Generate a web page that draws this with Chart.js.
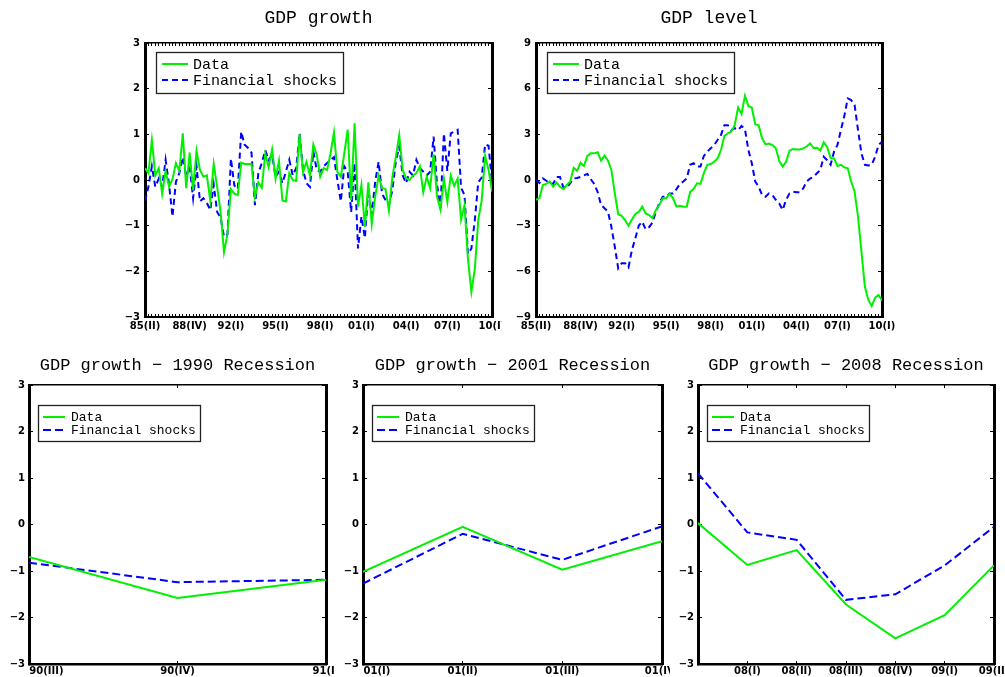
<!DOCTYPE html>
<html>
<head>
<meta charset="utf-8">
<script src="https://cdn.jsdelivr.net/npm/chart.js@4.4.1/dist/chart.umd.min.js"></script>
<style>
  html, body { margin: 0; padding: 0; background: #fff; }
  #fig { position: relative; width: 1005px; height: 677px; overflow: hidden; background: #fff; }
  #fig canvas { position: absolute; }
</style>
</head>
<body>
<div id="fig"></div>
<script>
// ---- series names ----
const seriesNames = ['Data', 'Financial shocks'];

// ---- full sample, quarterly 1985:I - 2010:II ----
const fullTickLabels = ['85(II)', '88(IV)', '92(I)', '95(I)', '98(I)', '01(I)', '04(I)', '07(I)', '10(I)'];

const growthData = [
  0.26, 0.15, 0.87, 0.10, 0.26, -0.30, 0.20, -0.15, 0.02, 0.37,
  0.20, 1.02, -0.18, 0.60, -0.22, 0.64, 0.22, 0.07, 0.10, -0.45,
  0.35, -0.15, -0.70, -1.58, -1.19, -0.20, -0.30, -0.33, 0.38, 0.35,
  0.35, 0.35, -0.37, -0.05, -0.17, 0.57, 0.28, 0.67, 0.03, 0.42,
  -0.45, -0.47, 0.15, 0.00, -0.02, 1.00, 0.17, 0.40, 0.10, 0.78,
  0.55, 0.07, 0.26, 0.22, 0.58, 1.04, 0.18, 0.07, 0.58, 1.10,
  -0.44, 1.24, -0.58, -0.11, -1.02, -0.05, -0.97, -0.36, 0.09, -0.18,
  -0.20, -0.67, 0.07, 0.50, 0.98, 0.22, 0.04, 0.00, 0.10, 0.15,
  0.30, -0.27, 0.07, -0.18, 0.56, -0.36, -0.65, 0.02, -0.48, 0.10,
  -0.13, 0.03, -0.87, -0.55, -1.72, -2.45, -1.95, -0.88, -0.45, 0.52,
  0.22, -0.25
];

const growthShocks = [
  -0.46, -0.15, 0.30, -0.15, 0.03, -0.15, 0.44, -0.10, -0.80, -0.04,
  0.15, 0.50, 0.07, 0.30, -0.40, 0.30, -0.47, -0.40, -0.50, -0.66,
  -0.10, -0.70, -0.82, -1.24, -1.19, 0.47, -0.12, -0.20, 1.06, 0.77,
  0.70, 0.60, -0.55, 0.15, 0.37, 0.65, 0.44, 0.55, 0.07, 0.18,
  -0.07, 0.18, 0.44, 0.10, 0.26, 1.02, 0.22, -0.07, -0.15, 0.62,
  0.22, 0.18, 0.30, 0.37, 0.44, 0.50, 0.00, -0.47, 0.30, 0.18,
  -0.70, 0.37, -1.50, -0.80, -1.27, -0.20, -0.76, -0.04, 0.40, -0.30,
  -0.44, -0.55, -0.22, 0.40, 0.73, 0.10, -0.07, 0.18, 0.10, 0.44,
  0.26, 0.18, 0.10, 0.18, 0.95, -0.10, -0.62, 1.02, 0.20, 1.02,
  1.06, 1.10, -0.17, -0.33, -1.62, -1.50, -0.88, -0.05, 0.05, 0.78,
  0.75, -0.05
];

const levelData = [
  -1.30, -1.20, -0.33, -0.26, -0.10, -0.44, -0.17, -0.44, -0.60, -0.33,
  -0.10, 0.80, 0.60, 1.13, 0.92, 1.58, 1.75, 1.75, 1.82, 1.27,
  1.60, 1.27, 0.66, -0.88, -2.25, -2.36, -2.63, -3.00, -2.60, -2.23,
  -2.10, -1.75, -2.20, -2.30, -2.50, -1.97, -1.64, -1.20, -1.20, -0.88,
  -1.20, -1.75, -1.70, -1.75, -1.75, -0.77, -0.60, -0.22, -0.26, 0.45,
  1.00, 1.05, 1.20, 1.42, 1.97, 2.90, 3.07, 3.17, 3.60, 4.77,
  4.34, 5.54, 4.86, 4.75, 3.66, 3.60, 2.74, 2.34, 2.40, 2.30,
  2.08, 1.25, 0.88, 1.20, 1.93, 2.04, 2.00, 2.00, 2.08, 2.20,
  2.40, 2.10, 2.12, 1.93, 2.47, 2.15, 1.45, 1.42, 0.92, 1.00,
  0.83, 0.77, -0.10, -0.77, -2.40, -4.70, -7.00, -7.88, -8.28, -7.73,
  -7.55, -7.93
];

const levelShocks = [
  0.00, -0.20, 0.10, -0.05, -0.17, -0.26, 0.20, 0.20, -0.50, -0.50,
  -0.20, 0.10, 0.13, 0.20, 0.30, 0.40, 0.05, -0.26, -0.80, -1.64,
  -1.86, -2.08, -3.07, -4.38, -5.80, -5.47, -5.47, -5.74, -4.60, -3.83,
  -3.00, -2.74, -3.24, -3.10, -2.80, -2.08, -1.53, -1.10, -1.10, -0.88,
  -0.88, -0.60, -0.26, -0.10, 0.10, 1.00, 1.10, 0.88, 0.88, 1.58,
  1.86, 2.08, 2.30, 2.63, 2.96, 3.60, 3.60, 3.28, 3.40, 3.28,
  3.55, 3.33, 1.97, 1.10, -0.10, -0.44, -0.99, -1.10, -0.88, -0.99,
  -1.30, -1.53, -1.97, -1.30, -0.88, -0.77, -0.80, -0.80, -0.55, -0.10,
  0.10, 0.20, 0.44, 0.66, 1.53, 1.30, 1.00, 1.86, 2.30, 3.28,
  4.20, 5.36, 5.25, 4.93, 3.28, 1.75, 1.00, 0.95, 1.00, 1.53,
  2.30, 2.52
];

// ---- recession windows ----
const rec1990Labels = ['90(III)', '90(IV)', '91(I)'];
const rec1990Data = [-0.70, -1.58, -1.19];
const rec1990Shocks = [-0.82, -1.24, -1.19];

const rec2001Labels = ['01(I)', '01(II)', '01(III)', '01(IV)'];
const rec2001Data = [-1.02, -0.05, -0.97, -0.36];
const rec2001Shocks = [-1.27, -0.20, -0.76, -0.04];

const rec2008Labels = ['', '08(I)', '08(II)', '08(III)', '08(IV)', '09(I)', '09(II)'];
const rec2008Data = [0.03, -0.87, -0.55, -1.72, -2.45, -1.95, -0.88];
const rec2008Shocks = [1.10, -0.17, -0.33, -1.62, -1.50, -0.88, -0.05];

// ---- styling ----
const GREEN = 'rgb(0,240,0)';
const BLUE = 'rgb(0,0,255)';
const TITLE_FAMILY = '"Liberation Mono", monospace';
const TICK_FAMILY = '"DejaVu Sans", sans-serif';
const TICK_SIZE = 10;

function fmtY(v) {
  return v < 0 ? '\u2212' + Math.abs(v) : String(v);
}

// text measuring for label alignment
const measureCtx = document.createElement('canvas').getContext('2d');
function textWidth(s, size) {
  measureCtx.font = 'bold ' + size + 'px ' + TICK_FAMILY;
  return measureCtx.measureText(s).width;
}

// Legend drawn as a framed box inside the plot area, top-left.
const boxLegend = {
  id: 'boxLegend',
  afterDraw(chart, args, o) {
    if (!o || !o.w) return;
    const { ctx, chartArea } = chart;
    const x = Math.round(chartArea.left + o.dx), y = Math.round(chartArea.top + o.dy);
    ctx.save();
    ctx.fillStyle = '#fff';
    ctx.fillRect(x, y, o.w, o.h);
    ctx.strokeStyle = '#222';
    ctx.lineWidth = 1.3;
    ctx.strokeRect(x + 0.5, y + 0.5, o.w, o.h);
    ctx.font = o.font;
    ctx.textBaseline = 'middle';
    chart.data.datasets.forEach((ds, k) => {
      const ly = y + o.row0 + k * o.rowGap;
      ctx.strokeStyle = ds.borderColor;
      ctx.lineWidth = ds.borderWidth;
      ctx.setLineDash(ds.borderDash || []);
      ctx.beginPath();
      ctx.moveTo(x + o.lineX0, ly);
      ctx.lineTo(x + o.lineX1, ly);
      ctx.stroke();
      ctx.setLineDash([]);
      ctx.fillStyle = '#000';
      ctx.fillText(ds.label, x + o.textX, ly + 1);
    });
    ctx.restore();
  }
};
Chart.register(boxLegend);

function makePanel(p) {
  const fig = document.getElementById('fig');
  const cv = document.createElement('canvas');
  cv.width = p.width; cv.height = p.height;
  cv.style.left = p.left + 'px'; cv.style.top = p.top + 'px';
  cv.style.width = p.width + 'px'; cv.style.height = p.height + 'px';
  fig.appendChild(cv);

  const a = p.area;
  const yW = a.l;
  const xH = p.height - a.b;
  const titlePadTop = p.titleY - p.titleSize / 2;
  const titlePadBottom = a.t - titlePadTop - p.titleSize;

  const xs = [];
  for (let i = 0; i <= p.xMax; i++) xs.push(i);

  const toPts = arr => arr.map((v, i) => ({ x: i, y: v }));

  const integerTicks = scale => { scale.ticks = xs.map(v => ({ value: v })); };
  const noPad = s => { s.paddingLeft = 0; s.paddingRight = 0; s.paddingTop = 0; s.paddingBottom = 0; };

  new Chart(cv, {
    type: 'line',
    data: {
      datasets: [
        {
          label: seriesNames[0], data: toPts(p.data), borderColor: GREEN, backgroundColor: GREEN,
          borderWidth: 2, pointRadius: 0, tension: 0, fill: false
        },
        {
          label: seriesNames[1], data: toPts(p.shocks), borderColor: BLUE, backgroundColor: BLUE,
          borderWidth: 2, borderDash: p.dash, pointRadius: 0, tension: 0, fill: false
        }
      ]
    },
    options: {
      responsive: false,
      animation: false,
      devicePixelRatio: 1,
      events: [],
      layout: {
        autoPadding: false,
        padding: { left: 0, top: 0, right: p.width - a.r, bottom: 0 }
      },
      plugins: {
        legend: { display: false },
        tooltip: { enabled: false },
        title: {
          display: true, text: p.title, color: '#000', fullSize: false,
          font: { family: TITLE_FAMILY, size: p.titleSize, weight: 'normal', lineHeight: 1 },
          padding: { top: titlePadTop, bottom: titlePadBottom }
        },
        boxLegend: p.legend
      },
      scales: {
        x: {
          type: 'linear', position: 'bottom', min: 0, max: p.xMax, z: 1,
          afterBuildTicks: integerTicks,
          afterFit: s => { s.height = xH; noPad(s); },
          grid: { display: true, drawOnChartArea: false, drawTicks: true, tickLength: -3, color: '#000', lineWidth: 1 },
          border: { display: true, color: '#000', width: p.bottomBorder },
          ticks: {
            autoSkip: false, maxRotation: 0, minRotation: 0, color: '#000',
            padding: p.xPad,
            font: { family: TICK_FAMILY, size: TICK_SIZE, weight: 'bold' },
            callback: (v, i) => p.xLabel(i)
          }
        },
        xTop: {
          type: 'linear', position: 'top', min: 0, max: p.xMax, z: 1,
          afterBuildTicks: integerTicks,
          afterFit: s => { s.height = 0; noPad(s); },
          grid: { display: true, drawOnChartArea: false, drawTicks: true, tickLength: -3, color: '#000', lineWidth: 1 },
          border: { display: true, color: '#000', width: 1.5 },
          ticks: { display: false }
        },
        y: {
          type: 'linear', position: 'left', min: p.yMin, max: p.yMax, z: 1,
          afterFit: s => { s.width = yW; noPad(s); },
          grid: { display: true, drawOnChartArea: false, drawTicks: true, tickLength: -4, color: '#000', lineWidth: 1 },
          border: { display: true, color: '#000', width: 3 },
          ticks: {
            stepSize: p.yStep, color: '#000', padding: p.yPad,
            font: { family: TICK_FAMILY, size: TICK_SIZE, weight: 'bold' },
            callback: v => fmtY(v)
          }
        },
        yR: {
          type: 'linear', position: 'right', min: p.yMin, max: p.yMax, z: 1,
          afterFit: s => { s.width = 0; noPad(s); },
          grid: { display: true, drawOnChartArea: false, drawTicks: true, tickLength: -4, color: '#000', lineWidth: 1 },
          border: { display: true, color: '#000', width: 3 },
          ticks: { display: false, stepSize: p.yStep }
        }
      }
    }
  });
}

// x labels spread evenly across the full sample
function fullLabeler(xMax) {
  const at = {};
  fullTickLabels.forEach((t, k) => { at[Math.round(k * xMax / (fullTickLabels.length - 1))] = t; });
  return i => at[i] || '';
}

// recession windows: the opening quarter label starts at the axis
function recLabeler(labels) {
  return i => {
    const t = labels[i] || '';
    if (i === 0 && t) {
      const n = Math.round(textWidth(t, TICK_SIZE) / textWidth(' ', TICK_SIZE));
      return ' '.repeat(n) + t;
    }
    return t;
  };
}

const legendTop = { dx: 11, dy: 9, w: 187, h: 41, row0: 12, rowGap: 16, lineX0: 6, lineX1: 32, textX: 37,
                    font: '15px "Liberation Mono", monospace' };
const legendBottom = { dx: 9, dy: 20, w: 162, h: 36, row0: 12, rowGap: 13, lineX0: 5, lineX1: 27, textX: 33,
                       font: '13px "Liberation Mono", monospace' };

const nFull = growthData.length - 1;

makePanel({
  left: 0, top: 0, width: 502, height: 338, area: { l: 145, t: 43, r: 492, b: 317 },
  title: 'GDP growth', titleY: 18, titleSize: 18, data: growthData, shocks: growthShocks,
  xMax: nFull, xLabel: fullLabeler(nFull), xPad: 6,
  yMin: -3, yMax: 3, yStep: 1, yPad: 9, dash: [6, 4], bottomBorder: 2, legend: legendTop
});

makePanel({
  left: 502, top: 0, width: 503, height: 338, area: { l: 34, t: 43, r: 380, b: 317 },
  title: 'GDP level', titleY: 18, titleSize: 18, data: levelData, shocks: levelShocks,
  xMax: nFull, xLabel: fullLabeler(nFull), xPad: 6,
  yMin: -9, yMax: 9, yStep: 3, yPad: 9, dash: [6, 4], bottomBorder: 2, legend: legendTop
});

makePanel({
  left: 0, top: 338, width: 335, height: 339, area: { l: 29, t: 47, r: 326, b: 326 },
  title: 'GDP growth \u2212 1990 Recession', titleY: 27, titleSize: 17, data: rec1990Data, shocks: rec1990Shocks,
  xMax: rec1990Labels.length - 1, xLabel: recLabeler(rec1990Labels), xPad: 4,
  yMin: -3, yMax: 3, yStep: 1, yPad: 8, dash: [8, 4], bottomBorder: 2.5, legend: legendBottom
});

makePanel({
  left: 335, top: 338, width: 335, height: 339, area: { l: 28, t: 47, r: 327, b: 326 },
  title: 'GDP growth \u2212 2001 Recession', titleY: 27, titleSize: 17, data: rec2001Data, shocks: rec2001Shocks,
  xMax: rec2001Labels.length - 1, xLabel: recLabeler(rec2001Labels), xPad: 4,
  yMin: -3, yMax: 3, yStep: 1, yPad: 8, dash: [8, 4], bottomBorder: 2.5, legend: legendBottom
});

makePanel({
  left: 670, top: 338, width: 335, height: 339, area: { l: 28, t: 47, r: 324, b: 326 },
  title: 'GDP growth \u2212 2008 Recession', titleY: 27, titleSize: 17, data: rec2008Data, shocks: rec2008Shocks,
  xMax: rec2008Labels.length - 1, xLabel: recLabeler(rec2008Labels), xPad: 4,
  yMin: -3, yMax: 3, yStep: 1, yPad: 8, dash: [8, 4], bottomBorder: 2.5, legend: legendBottom
});
</script>
</body>
</html>
